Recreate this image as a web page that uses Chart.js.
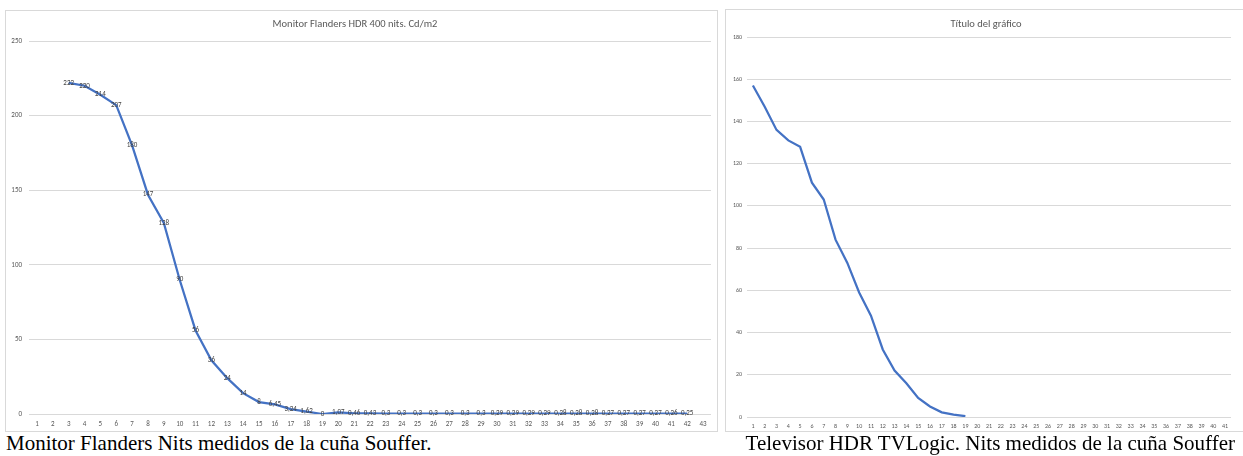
<!DOCTYPE html>
<html>
<head>
<meta charset="utf-8">
<script src="https://cdn.jsdelivr.net/npm/chart.js"></script>
<style>
  html, body { margin: 0; padding: 0; background: #fff; }
  body { width: 1243px; height: 456px; position: relative; overflow: hidden; }
  .box { position: absolute; border: 1px solid #d9d9d9; box-sizing: border-box; }
  .wrap { position: absolute; }
  .caption { position: absolute; font-family: "Liberation Serif", "Times New Roman", serif; font-size: 21px; line-height: 21px; color: #000; white-space: nowrap; }
</style>
</head>
<body>
<div class="box" style="left:5px; top:10px; width:713px; height:422px;"></div>
<div class="box" style="left:725px; top:9px; width:530px; height:423px;"></div>
<div class="wrap" style="left:6px; top:11px; width:711px; height:420px;"><canvas id="flanders" width="711" height="420"></canvas></div>
<div class="wrap" style="left:726px; top:10px; width:520px; height:422px;"><canvas id="tvlogic" width="520" height="422"></canvas></div>
<div class="caption" style="left:6px; top:433px;">Monitor Flanders Nits medidos de la cuña Souffer.</div>
<div class="caption" style="right:8px; top:433px;">Televisor HDR TVLogic. Nits medidos de la cuña Souffer</div>
<script>
// Monitor Flanders HDR 400 (cd/m2)
const flandersLabels = ['1','2','3','4','5','6','7','8','9','10','11','12','13','14','15','16','17','18','19','20','21','22','23','24','25','26','27','28','29','30','31','32','33','34','35','36','37','38','39','40','41','42','43'];
const flandersNits = [null, null, 222, 220, 214, 207, 180, 147, 128, 90, 56, 36, 24, 14, 8, 6.45, 3.24, 1.62, 0, 1.07, 0.46, 0.43, 0.3, 0.3, 0.3, 0.3, 0.3, 0.3, 0.3, 0.29, 0.29, 0.29, 0.29, 0.28, 0.28, 0.28, 0.27, 0.27, 0.27, 0.27, 0.26, 0.25, null];
const flandersTitle = 'Monitor Flanders HDR 400 nits. Cd/m2';

// Televisor HDR TVLogic
const tvLabels = ['1','2','3','4','5','6','7','8','9','10','11','12','13','14','15','16','17','18','19','20','21','22','23','24','25','26','27','28','29','30','31','32','33','34','35','36','37','38','39','40','41'];
const tvNits = [157, 147, 136, 131, 128, 111, 103, 84, 73, 59, 48, 32, 22, 16, 9, 5, 2.2, 1.1, 0.4, null, null, null, null, null, null, null, null, null, null, null, null, null, null, null, null, null, null, null, null, null, null];
const tvTitle = 'Título del gráfico';

const FONT = 'Carlito, Lato, sans-serif';
const TXT = '#595959';
const GRID = '#d9d9d9';
const LINE = '#4472C4';

// data labels centred on each point (excel style)
const valueLabels = {
    id: 'valueLabels',
    afterDatasetsDraw(chart) {
        const ctx = chart.ctx;
        const meta = chart.getDatasetMeta(0);
        const vals = chart.data.datasets[0].data;
        ctx.save();
        ctx.font = '7px ' + FONT;
        ctx.fillStyle = '#404040';
        ctx.textAlign = 'center';
        ctx.textBaseline = 'middle';
        meta.data.forEach((pt, i) => {
            const v = vals[i];
            if (v === null || v === undefined) return;
            ctx.fillText(String(v).replace('.', ','), pt.x, pt.y);
        });
        ctx.restore();
    }
};

// title centred on the whole chart box, not the padded area
const boxTitle = {
    id: 'boxTitle',
    afterDraw(chart, args, opts) {
        const ctx = chart.ctx;
        ctx.save();
        ctx.font = '10.5px ' + FONT;
        ctx.fillStyle = TXT;
        ctx.textAlign = 'center';
        ctx.textBaseline = 'middle';
        ctx.fillText(opts.text, opts.cx, opts.cy);
        ctx.restore();
    }
};

function makeChart(id, labels, values, title, o) {
    return new Chart(document.getElementById(id), {
        type: 'line',
        data: {
            labels: labels,
            datasets: [{
                data: values,
                borderColor: LINE,
                borderWidth: 2.25,
                pointRadius: 0,
                tension: 0,
                fill: false
            }]
        },
        plugins: (o.plugins || []).concat([boxTitle]),
        options: {
            responsive: false,
            animation: false,
            layout: { padding: { left: 0, right: o.padRight, top: o.padTop, bottom: 0 } },
            plugins: {
                legend: { display: false },
                tooltip: { enabled: false },
                title: { display: false },
                boxTitle: { text: title, cx: o.titleX, cy: o.titleY }
            },
            scales: {
                x: {
                    type: 'category',
                    offset: true,
                    grid: { display: false, drawTicks: false },
                    border: { display: false },
                    ticks: { color: TXT, font: { family: FONT, size: o.xFont }, autoSkip: false, maxRotation: 0, padding: o.xPad },
                    afterFit: s => { s.height = o.xHeight; }
                },
                y: {
                    min: 0,
                    max: o.yMax,
                    grid: { color: GRID, lineWidth: 1, drawTicks: false },
                    border: { display: false },
                    ticks: { stepSize: o.yStep, color: TXT, font: { family: FONT, size: o.yFont }, padding: o.yPad },
                    afterFit: s => { s.width = o.yWidth; }
                }
            }
        }
    });
}

makeChart('flanders', flandersLabels, flandersNits, flandersTitle, {
    plugins: [valueLabels], padRight: 6, padTop: 30, titleX: 349, titleY: 13.5,
    xFont: 7, xPad: 6, xHeight: 17,
    yMax: 250, yStep: 50, yFont: 7, yPad: 7, yWidth: 23
});

makeChart('tvlogic', tvLabels, tvNits, tvTitle, {
    padRight: 15, padTop: 27, titleX: 260, titleY: 14,
    xFont: 6, xPad: 6, xHeight: 15,
    yMax: 180, yStep: 20, yFont: 6, yPad: 5, yWidth: 21
});
</script>
</body>
</html>
